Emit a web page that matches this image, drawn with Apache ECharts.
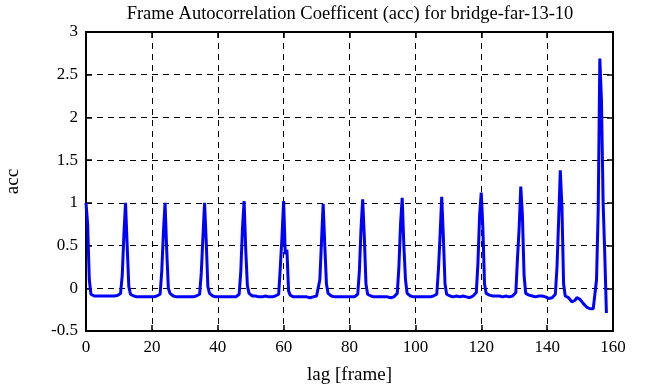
<!DOCTYPE html>
<html>
<head>
<meta charset="utf-8">
<script src="https://cdn.jsdelivr.net/npm/echarts@6/dist/echarts.min.js"></script>
<style>html,body{margin:0;padding:0;background:#fff;}#c{width:656px;height:387px;}</style>
</head>
<body>
<div id="c"></div>
<script>
const titleText = "Frame Autocorrelation Coefficent (acc) for bridge-far-13-10";
const xName = "lag [frame]";
const yName = "acc";
const lagStep = 0.5;
const xTicks = [0, 20, 40, 60, 80, 100, 120, 140, 160];
const yTicks = [-0.5, 0, 0.5, 1, 1.5, 2, 2.5, 3];
// acc sampled every half frame, lag 0 .. 158
const acc0   = [1.0,0.75,0.1,-0.07,-0.08,-0.09,-0.09,-0.09,-0.09,-0.09,-0.09,-0.09,-0.09,-0.09,-0.09,-0.09,-0.09,-0.09,-0.09,-0.085,-0.08,-0.06,0.15,0.62];
const acc12  = [1.0,0.5,0.02,-0.07,-0.08,-0.09,-0.1,-0.1,-0.1,-0.1,-0.1,-0.1,-0.1,-0.1,-0.1,-0.1,-0.1,-0.1,-0.1,-0.09,-0.09,-0.07,0.2,0.65];
const acc24  = [1.0,0.45,0.0,-0.06,-0.08,-0.09,-0.09,-0.1,-0.1,-0.1,-0.1,-0.1,-0.1,-0.1,-0.1,-0.1,-0.1,-0.1,-0.1,-0.09,-0.09,-0.07,0.18,0.6];
const acc36  = [1.0,0.55,0.02,-0.06,-0.08,-0.09,-0.1,-0.1,-0.1,-0.1,-0.1,-0.1,-0.1,-0.1,-0.1,-0.1,-0.1,-0.1,-0.1,-0.1,-0.09,-0.07,0.2,0.7];
const acc48  = [1.02,0.45,0.03,-0.06,-0.08,-0.09,-0.09,-0.09,-0.09,-0.1,-0.1,-0.1,-0.09,-0.09,-0.1,-0.1,-0.1,-0.1,-0.1,-0.09,-0.09,-0.07,0.25,0.6];
const acc60  = [1.02,0.4,0.45,-0.03,-0.08,-0.09,-0.1,-0.1,-0.1,-0.1,-0.1,-0.1,-0.1,-0.1,-0.1,-0.1,-0.11,-0.11,-0.1,-0.1,-0.09,-0.07,0.1,0.55];
const acc72  = [0.99,0.5,0.05,-0.06,-0.08,-0.09,-0.1,-0.1,-0.1,-0.1,-0.1,-0.1,-0.1,-0.1,-0.11,-0.1,-0.1,-0.1,-0.1,-0.1,-0.09,-0.07,0.2,0.7];
const acc84  = [1.04,0.6,0.05,-0.07,-0.08,-0.09,-0.1,-0.1,-0.1,-0.1,-0.1,-0.1,-0.1,-0.1,-0.1,-0.1,-0.11,-0.11,-0.1,-0.1,-0.09,-0.06,0.25,0.75];
const acc96  = [1.06,0.5,0.1,-0.06,-0.08,-0.09,-0.09,-0.1,-0.1,-0.1,-0.1,-0.1,-0.1,-0.1,-0.1,-0.1,-0.1,-0.1,-0.1,-0.09,-0.09,-0.07,0.22,0.62];
const acc108 = [1.07,0.6,0.05,-0.07,-0.08,-0.09,-0.09,-0.1,-0.09,-0.09,-0.1,-0.1,-0.09,-0.09,-0.1,-0.1,-0.1,-0.11,-0.1,-0.09,-0.08,-0.05,0.3,0.85];
const acc120 = [1.12,0.7,0.05,-0.06,-0.08,-0.08,-0.09,-0.09,-0.09,-0.09,-0.09,-0.09,-0.09,-0.1,-0.1,-0.09,-0.09,-0.1,-0.1,-0.09,-0.08,-0.05,0.35,0.7];
const acc132 = [1.19,0.85,0.15,-0.06,-0.08,-0.08,-0.09,-0.09,-0.1,-0.1,-0.1,-0.09,-0.09,-0.09,-0.1,-0.1,-0.11,-0.12,-0.12,-0.11,-0.1,-0.07,0.25,0.8];
const acc144 = [1.38,0.95,0.05,-0.09,-0.11,-0.11,-0.13,-0.16,-0.18,-0.14,-0.11,-0.11,-0.13,-0.15,-0.18,-0.2,-0.22,-0.23,-0.24,-0.24,-0.24,-0.22,0.1,0.9];
const acc156 = [2.69,2.2,1.0,0.4,-0.29];

const acc = [].concat(acc0, acc12, acc24, acc36, acc48, acc60, acc72, acc84, acc96, acc108, acc120, acc132, acc144, acc156);
const points = acc.map((v, i) => [i * lagStep, v]);

const font = "'Liberation Serif', 'DejaVu Serif', serif";
const chart = echarts.init(document.getElementById('c'), null, {renderer: 'canvas'});
const axisLine = {show: true, onZero: false, lineStyle: {color: '#000', width: 2}};
const tickStyle = {show: true, inside: true, length: 6, lineStyle: {color: '#000', width: 1.5}};
const split = {show: true, lineStyle: {color: '#000', width: 1, type: [6, 5]}};
chart.setOption({
  animation: false,
  backgroundColor: '#fff',
  title: {
    text: titleText, left: 345, top: 0, textAlign: 'center',
    textStyle: {fontFamily: font, fontSize: 18.5, fontWeight: 'normal', color: '#000'}
  },
  grid: {left: 86, right: 43, top: 32, bottom: 56, containLabel: false, outerBoundsMode: 'none'},
  xAxis: [{
    type: 'value', min: 0, max: 160, interval: 20,
    name: xName, nameLocation: 'middle', nameGap: 35,
    nameTextStyle: {fontFamily: font, fontSize: 19, color: '#000'},
    axisLine: axisLine, axisTick: tickStyle, splitLine: split,
    axisLabel: {fontFamily: font, fontSize: 17, color: '#000', margin: 8,
      formatter: v => xTicks.includes(v) ? String(v) : ''}
  }, {
    type: 'value', min: 0, max: 160, interval: 20, position: 'top',
    axisLine: axisLine, axisTick: tickStyle, splitLine: {show: false}, axisLabel: {show: false}
  }],
  yAxis: [{
    type: 'value', min: -0.5, max: 3, interval: 0.5,
    name: yName, nameLocation: 'middle', nameGap: 63, nameRotate: 90,
    nameTextStyle: {fontFamily: font, fontSize: 19, color: '#000'},
    axisLine: axisLine, axisTick: tickStyle, splitLine: split,
    axisLabel: {fontFamily: font, fontSize: 17, color: '#000', margin: 8,
      formatter: v => yTicks.includes(v) ? String(v) : ''}
  }, {
    type: 'value', min: -0.5, max: 3, interval: 0.5, position: 'right',
    axisLine: axisLine, axisTick: tickStyle, splitLine: {show: false}, axisLabel: {show: false}
  }],
  series: [{
    type: 'line', data: points, xAxisIndex: 0, yAxisIndex: 0,
    showSymbol: false, symbol: 'none',
    lineStyle: {color: '#0000ff', width: 3}, z: 3
  }]
});
</script>
</body>
</html>
